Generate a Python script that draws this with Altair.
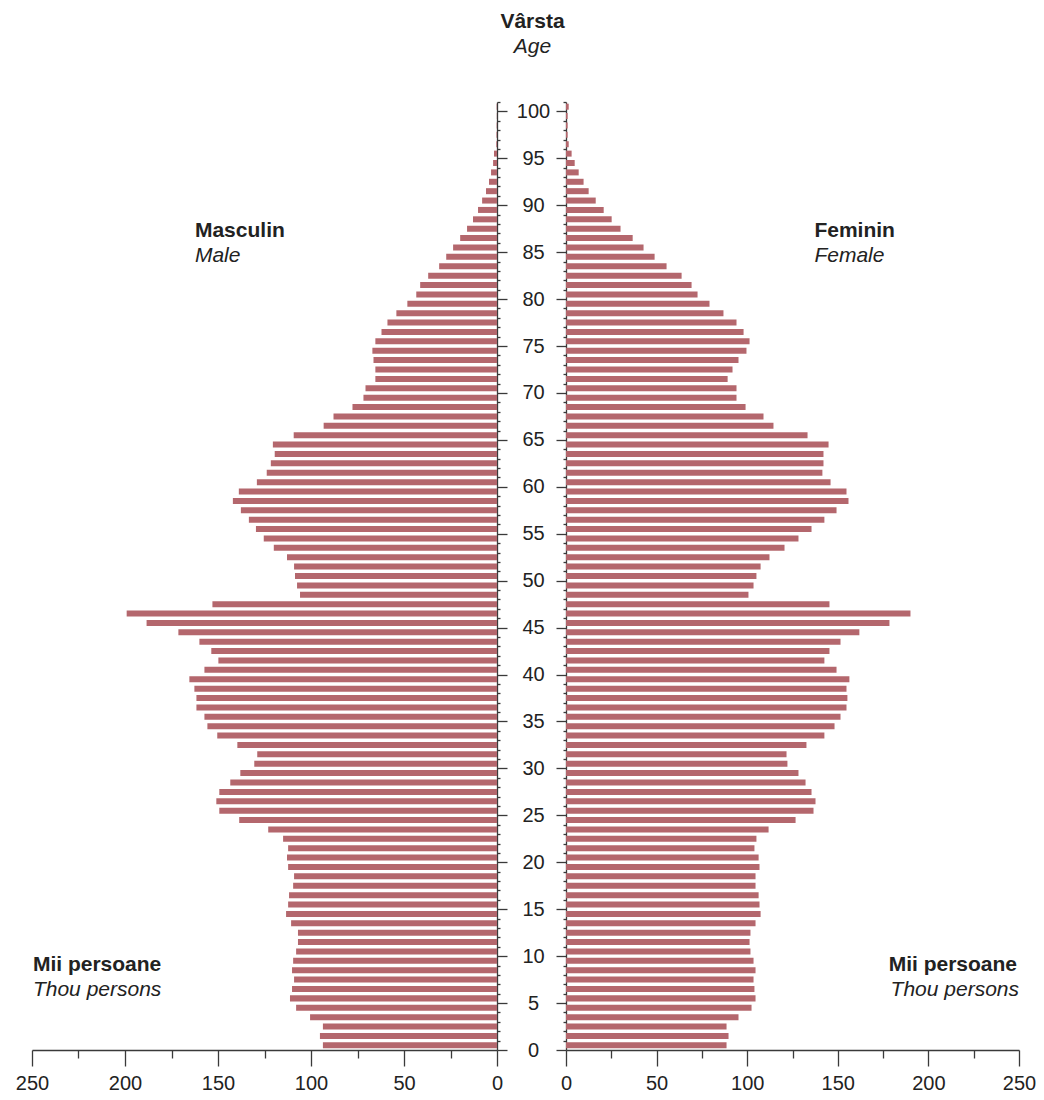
import altair as alt
import pandas as pd

# ---- data ----
ages = list(range(0, 101))
male = [93.6, 95.2, 93.6, 100.5, 108.0, 111.3, 110.2, 109.1, 110.2, 109.6,
        108.0, 107.0, 107.0, 110.7, 113.4, 112.3, 111.8, 109.6, 109.1, 112.3,
        112.9, 112.3, 115.0, 123.0, 138.6, 149.3, 150.9, 149.3, 143.4, 138.0,
        130.5, 128.9, 139.6, 150.4, 155.7, 157.3, 161.6, 161.6, 162.7, 165.4,
        157.3, 149.8, 153.6, 160.0, 171.3, 188.4, 199.1, 153.0, 105.9, 107.5,
        108.6, 109.1, 112.9, 120.0, 125.4, 129.6, 133.4, 137.7, 142.0, 138.8,
        129.1, 123.8, 121.6, 119.5, 120.5, 109.3, 93.2, 87.9, 77.7, 71.8,
        70.7, 65.4, 65.4, 66.4, 67.0, 65.4, 62.1, 58.9, 54.1, 48.2,
        43.4, 41.3, 37.0, 31.1, 27.3, 23.6, 19.8, 16.1, 12.9, 10.2,
        8.0, 5.9, 4.3, 3.2, 2.1, 1.6, 0.4, 0.3, 0.2, 0.1, 0.2]
female = [88.6, 89.7, 88.6, 95.2, 102.4, 104.6, 104.0, 103.5, 104.6, 103.5,
          101.8, 101.3, 101.8, 104.6, 107.4, 106.8, 106.3, 104.6, 104.6, 106.8,
          106.3, 104.0, 105.1, 111.8, 126.7, 136.6, 137.7, 135.5, 132.2, 128.3,
          122.2, 121.7, 132.7, 142.6, 148.2, 151.5, 154.8, 155.3, 154.8, 156.4,
          149.3, 142.6, 145.4, 151.5, 161.9, 178.5, 190.1, 145.4, 100.7, 103.5,
          105.1, 107.4, 112.3, 120.6, 128.3, 135.5, 142.6, 149.3, 155.9, 154.8,
          146.0, 141.5, 142.1, 142.1, 144.9, 133.3, 114.5, 109.0, 99.1, 94.1,
          94.1, 89.2, 91.9, 95.2, 99.6, 101.3, 98.0, 94.1, 86.9, 79.2,
          72.6, 69.3, 63.8, 55.5, 48.9, 42.8, 36.8, 30.1, 25.2, 20.8,
          16.4, 12.5, 9.7, 7.0, 4.8, 3.1, 1.5, 0.9, 0.9, 0.9, 1.5]
x_ticks = [0, 25, 50, 75, 100, 125, 150, 175, 200, 225, 250]
y_ticks = list(range(0, 102))

left_bold = ["Masculin", "Mii persoane"]
left_italic = ["Male", "Thou persons"]
right_bold = ["Feminin", "Mii persoane"]
right_italic = ["Female", "Thou persons"]

left_bold_pos = [(162.4, 87.3), (249.5, 9.1)]
left_italic_pos = [(162.4, 84.6), (249.5, 6.4)]
right_bold_pos = [(137.1, 87.3), (248.9, 9.1)]
right_italic_pos = [(137.1, 84.6), (250.0, 6.4)]

df = pd.DataFrame({"age": ages, "male": male, "female": female})

BAR = "#b4676d"
FONT = "Liberation Sans"
TXT = "#222222"
AX = "#3a3a3a"
H = 948
WL = 465
WR = 453
NUM_FS = 20
TXT_FS = 21

y_scale = alt.Scale(domain=[0, 101], nice=False, zero=False)


def x_axis():
    ts = {"condition": {"test": "datum.value % 50 === 0", "value": 16}, "value": 8}
    return alt.Axis(values=x_ticks, tickSize=ts, grid=False, title=None,
                    labelExpr="datum.value % 50 === 0 ? datum.label : ''",
                    labelOverlap=False, labelFont=FONT, labelFontSize=NUM_FS,
                    labelColor=TXT, labelPadding=7, domainColor=AX, tickColor=AX,
                    domainWidth=1.3, tickWidth=1.3, labelFlush=False)


def y_axis(orient, labels):
    ts = {"condition": {"test": "datum.value % 5 === 0", "value": 10}, "value": 3}
    kw = dict(orient=orient, values=y_ticks, tickSize=ts, grid=False,
              title=None, domainColor=AX, tickColor=AX, domainWidth=1.3,
              tickWidth=1.3, labelOverlap=False)
    if labels:
        kw.update(labelExpr="datum.value % 5 === 0 && datum.value <= 100 ? datum.label : ''",
                  labelAlign="center", labelBaseline="middle", labelPadding=26,
                  labelFont=FONT, labelFontSize=NUM_FS, labelColor=TXT, labelFlush=False)
    else:
        kw.update(labels=False)
    return alt.Axis(**kw)


def ann_df(texts, pos):
    return pd.DataFrame({"t": texts, "x": [p[0] for p in pos], "y": [p[1] for p in pos]})


def panel(field, reverse, width, orient, labels, bold_df, italic_df, align_list):
    xs = alt.Scale(domain=[0, 250], reverse=reverse, nice=False)
    xa = x_axis()
    ya = y_axis(orient, labels)
    bars = alt.Chart(df).transform_calculate(
        y0="datum.age + 0.18", y1="datum.age + 0.82", zero="0"
    ).mark_bar(color=BAR).encode(
        x=alt.X(f"{field}:Q", scale=xs, axis=xa),
        x2="zero:Q",
        y=alt.Y("y0:Q", scale=y_scale, axis=ya),
        y2="y1:Q",
    )
    layers = [bars]
    for d, style in ((bold_df, "bold"), (italic_df, "italic")):
        for i in range(len(d)):
            sub = d.iloc[[i]]
            m = alt.Chart(sub).mark_text(
                align=align_list[i], baseline="middle", font=FONT, fontSize=TXT_FS,
                color=TXT, fontWeight="bold" if style == "bold" else "normal",
                fontStyle="italic" if style == "italic" else "normal",
            ).encode(
                x=alt.X("x:Q", scale=xs, axis=xa),
                y=alt.Y("y:Q", scale=y_scale, axis=ya),
                text="t:N",
            )
            layers.append(m)
    return alt.layer(*layers).properties(width=width, height=H)


left = panel("male", True, WL, "right", True,
             ann_df(left_bold, left_bold_pos), ann_df(left_italic, left_italic_pos),
             ["left", "left"])
right = panel("female", False, WR, "left", False,
              ann_df(right_bold, right_bold_pos), ann_df(right_italic, right_italic_pos),
              ["left", "right"])

chart = alt.hconcat(left, right, spacing=69, bounds="flush").properties(
    title=alt.TitleParams(
        text="Vârsta", subtitle="Age", anchor="middle", dx=7,
        font=FONT, fontSize=TXT_FS, fontWeight="bold", color=TXT,
        subtitleFont=FONT, subtitleFontSize=TXT_FS, subtitleFontStyle="italic",
        subtitleColor=TXT, subtitlePadding=4, offset=35,
    ),
    padding={"left": 7, "top": 3, "right": 0, "bottom": 0},
).configure_view(stroke=None)

chart.save("out.html", embed_options={"renderer": "svg", "actions": False})
